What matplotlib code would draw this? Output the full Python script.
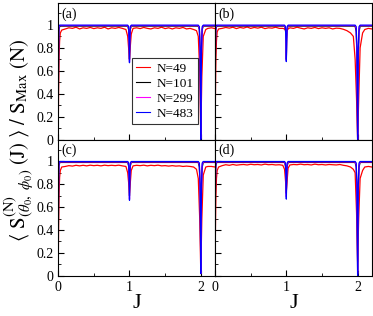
import matplotlib
matplotlib.use("Agg")
import matplotlib.pyplot as plt
from matplotlib.ticker import MultipleLocator

plt.rcParams['font.family'] = ['Liberation Serif', 'DejaVu Serif']
plt.rcParams['mathtext.fontset'] = 'stix'

# --- DATOS ---
SERIES = ["N=49", "N=101", "N=299", "N=483"]
COLORES = ["red", "black", "magenta", "blue"]
PANELES = ["(a)", "(b)", "(c)", "(d)"]

# rejilla para las curvas suaves (N=101, 299, 483)
J_SUAVE = [0, 0.004, 0.008, 0.012, 0.02, 0.03, 0.05, 0.975, 0.988, 0.995, 1.0,
           1.005, 1.012, 1.025, 1.965, 1.98, 1.99, 1.996, 2.0, 2.004, 2.01,
           2.02, 2.035, 2.2]

# rejilla para N=49 (curva ruidosa)
J_ROJO = [0, 0.006, 0.012, 0.02, 0.03, 0.05,
          0.1, 0.15, 0.2, 0.25, 0.3, 0.35, 0.4, 0.45, 0.5, 0.55, 0.6, 0.65,
          0.7, 0.75, 0.8, 0.85, 0.9, 0.95, 0.975, 0.99, 1.0, 1.01, 1.025,
          1.05, 1.1, 1.15, 1.2, 1.25, 1.3, 1.35, 1.4, 1.45, 1.5, 1.55, 1.6,
          1.65, 1.7, 1.75, 1.8, 1.85, 1.9, 1.94, 1.965, 1.985, 2.0, 2.015,
          2.035, 2.07, 2.1, 2.15, 2.2]

# panel (a)
A_N49 = [0.02, 0.45, 0.72, 0.86, 0.93, 0.955,
         0.965, 0.975, 0.97, 0.98, 0.965, 0.975, 0.97, 0.978, 0.968, 0.975,
         0.97, 0.98, 0.965, 0.975, 0.97, 0.978, 0.97, 0.96, 0.9, 0.78, 0.7,
         0.8, 0.92, 0.97, 0.975, 0.968, 0.978, 0.97, 0.965, 0.975, 0.97,
         0.98, 0.968, 0.975, 0.965, 0.975, 0.97, 0.978, 0.965, 0.97, 0.96,
         0.95, 0.9, 0.6, 0.02, 0.55, 0.9, 0.96, 0.97, 0.975, 0.968]
A_N101 = [0.03, 0.55, 0.88, 0.96, 0.985, 0.99, 0.99, 0.99, 0.96, 0.88, 0.7,
          0.88, 0.96, 0.99, 0.99, 0.96, 0.8, 0.5, 0.02, 0.5, 0.8, 0.96,
          0.99, 0.99]
A_N299 = [0.02, 0.65, 0.93, 0.98, 0.995, 0.995, 0.995, 0.995, 0.97, 0.86,
          0.68, 0.86, 0.97, 0.995, 0.995, 0.97, 0.75, 0.4, 0.01, 0.4, 0.75,
          0.97, 0.995, 0.995]
A_N483 = [0.0, 0.78, 0.96, 0.99, 0.998, 0.998, 0.998, 0.998, 0.985, 0.85,
          0.67, 0.85, 0.985, 0.998, 0.998, 0.985, 0.8, 0.35, 0.0, 0.35, 0.8,
          0.985, 0.998, 0.998]

# panel (b)
B_N49 = [0.0, 0.4, 0.7, 0.86, 0.94, 0.965,
         0.97, 0.978, 0.972, 0.98, 0.968, 0.978, 0.972, 0.982, 0.97, 0.978,
         0.972, 0.98, 0.968, 0.975, 0.972, 0.98, 0.97, 0.97, 0.965, 0.95,
         0.94, 0.95, 0.965, 0.975, 0.97, 0.98, 0.972, 0.965, 0.975, 0.97,
         0.978, 0.968, 0.975, 0.97, 0.975, 0.965, 0.972, 0.97, 0.962, 0.95,
         0.93, 0.9, 0.7, 0.35, 0.0, 0.35, 0.8, 0.93, 0.96, 0.97, 0.965]
B_N101 = [0.02, 0.55, 0.88, 0.96, 0.985, 0.99, 0.99, 0.99, 0.96, 0.88, 0.7,
          0.88, 0.96, 0.99, 0.99, 0.94, 0.75, 0.4, 0.01, 0.4, 0.75, 0.94,
          0.99, 0.99]
B_N299 = [0.01, 0.65, 0.93, 0.98, 0.995, 0.995, 0.995, 0.995, 0.97, 0.86,
          0.69, 0.86, 0.97, 0.995, 0.995, 0.97, 0.75, 0.35, 0.0, 0.35, 0.75,
          0.97, 0.995, 0.995]
B_N483 = [0.0, 0.78, 0.96, 0.99, 0.998, 0.998, 0.998, 0.998, 0.985, 0.85,
          0.68, 0.85, 0.985, 0.998, 0.998, 0.985, 0.8, 0.3, 0.0, 0.3, 0.8,
          0.985, 0.998, 0.998]

# panel (c)
C_N49 = [0.03, 0.45, 0.72, 0.86, 0.92, 0.95,
         0.955, 0.962, 0.958, 0.965, 0.96, 0.965, 0.96, 0.966, 0.962, 0.965,
         0.96, 0.966, 0.962, 0.965, 0.962, 0.966, 0.96, 0.955, 0.9, 0.8, 0.72,
         0.8, 0.92, 0.96, 0.965, 0.962, 0.966, 0.96, 0.965, 0.962, 0.966,
         0.96, 0.962, 0.958, 0.962, 0.958, 0.96, 0.955, 0.958, 0.955, 0.95,
         0.93, 0.85, 0.5, 0.03, 0.5, 0.88, 0.95, 0.955, 0.955, 0.95]
C_N101 = [0.03, 0.55, 0.88, 0.96, 0.985, 0.99, 0.99, 0.99, 0.96, 0.88, 0.7,
          0.88, 0.96, 0.99, 0.99, 0.95, 0.78, 0.45, 0.03, 0.45, 0.78, 0.95,
          0.99, 0.99]
C_N299 = [0.02, 0.65, 0.93, 0.98, 0.995, 0.995, 0.995, 0.995, 0.97, 0.86,
          0.67, 0.86, 0.97, 0.995, 0.995, 0.97, 0.75, 0.4, 0.02, 0.4, 0.75,
          0.97, 0.995, 0.995]
C_N483 = [0.0, 0.78, 0.96, 0.99, 0.998, 0.998, 0.998, 0.998, 0.985, 0.85,
          0.66, 0.85, 0.985, 0.998, 0.998, 0.985, 0.8, 0.35, 0.02, 0.35, 0.8,
          0.985, 0.998, 0.998]

# panel (d)
D_N49 = [0.02, 0.42, 0.7, 0.85, 0.92, 0.95,
         0.962, 0.97, 0.965, 0.972, 0.966, 0.97, 0.972, 0.968, 0.974, 0.97,
         0.972, 0.968, 0.975, 0.97, 0.972, 0.968, 0.97, 0.965, 0.93, 0.82,
         0.74, 0.82, 0.94, 0.968, 0.972, 0.97, 0.975, 0.97, 0.972, 0.968,
         0.975, 0.97, 0.972, 0.968, 0.972, 0.97, 0.968, 0.972, 0.965, 0.96,
         0.95, 0.93, 0.9, 0.55, 0.12, 0.5, 0.85, 0.92, 0.95, 0.955, 0.95]
D_N101 = [0.03, 0.55, 0.88, 0.96, 0.985, 0.99, 0.99, 0.99, 0.96, 0.88, 0.72,
          0.88, 0.96, 0.99, 0.99, 0.95, 0.78, 0.45, 0.05, 0.45, 0.78, 0.95,
          0.99, 0.99]
D_N299 = [0.02, 0.65, 0.93, 0.98, 0.995, 0.995, 0.995, 0.995, 0.97, 0.86,
          0.69, 0.86, 0.97, 0.995, 0.995, 0.97, 0.75, 0.4, 0.02, 0.4, 0.75,
          0.97, 0.995, 0.995]
D_N483 = [0.0, 0.78, 0.96, 0.99, 0.998, 0.998, 0.998, 0.998, 0.985, 0.85,
          0.67, 0.85, 0.985, 0.998, 0.998, 0.985, 0.8, 0.3, 0.0, 0.3, 0.8,
          0.985, 0.998, 0.998]

DATOS = [
    [A_N49, A_N101, A_N299, A_N483],
    [B_N49, B_N101, B_N299, B_N483],
    [C_N49, C_N101, C_N299, C_N483],
    [D_N49, D_N101, D_N299, D_N483],
]

# --- FIGURA ---
fig, axes = plt.subplots(2, 2, figsize=(3.73, 3.16), dpi=100)
fig.subplots_adjust(left=0.156, right=0.997, top=0.99, bottom=0.127,
                    hspace=0, wspace=0)

for k, ax in enumerate(axes.flat):
    for i, (nombre, color) in enumerate(zip(SERIES, COLORES)):
        xs = J_ROJO if i == 0 else J_SUAVE
        ax.plot(xs, DATOS[k][i], color=color, lw=0.9, label=nombre)

    ax.set_xlim(0, 2.2)
    ax.set_ylim(0, 1.19)
    ax.xaxis.set_major_locator(MultipleLocator(1))
    ax.xaxis.set_minor_locator(MultipleLocator(0.5))
    ax.yaxis.set_major_locator(MultipleLocator(0.2))
    ax.yaxis.set_minor_locator(MultipleLocator(0.1))
    ax.tick_params(which='both', direction='in', labelsize=10)
    ax.tick_params(which='major', length=4)
    ax.tick_params(which='minor', length=2.5)
    ax.set_yticks([0, 0.2, 0.4, 0.6, 0.8, 1.0])
    ax.set_yticklabels(["0", "0.2", "0.4", "0.6", "0.8", "1"])
    ax.set_xticks([0, 1, 2])
    ax.set_xticklabels(["0", "1", "2"])
    ax.text(0.02, 0.97, PANELES[k], transform=ax.transAxes,
            ha='left', va='top', fontsize=10)

    fila, col = divmod(k, 2)
    if fila == 0:
        ax.tick_params(labelbottom=False)
    else:
        ax.set_xlabel("J", fontsize=16, labelpad=0)
    if col == 1:
        ax.tick_params(labelleft=False)

leg = axes[0, 0].legend(loc='upper left', bbox_to_anchor=(0.47, 0.595),
                        fontsize=9.5, handlelength=1.1, handletextpad=0.5,
                        borderpad=0.3, labelspacing=0.22, frameon=True,
                        fancybox=False, edgecolor='black', borderaxespad=0)
leg.get_frame().set_linewidth(0.8)
for linea in leg.get_lines():
    linea.set_linewidth(0.8)

fig.text(0.052, 0.555,
         r'$\langle\ \mathrm{S}^{(\mathrm{N})}_{(\theta_0,\ \phi_0)}\ (\mathrm{J})\ \rangle\ /\ \mathrm{S}_{\mathrm{Max}}\ (\mathrm{N})$',
         rotation=90, ha='center', va='center', fontsize=15)

fig.savefig("out.png", dpi=100)
